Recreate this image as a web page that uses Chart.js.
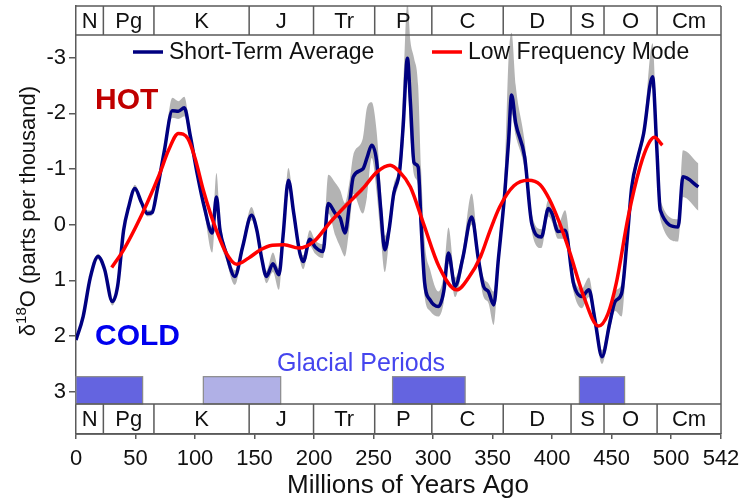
<!DOCTYPE html>
<html>
<head>
<meta charset="utf-8">
<script src="https://cdn.jsdelivr.net/npm/chart.js@4.4.0/dist/chart.umd.min.js"></script>
<style>
  html, body { margin: 0; padding: 0; background: #fff; }
</style>
</head>
<body>
<canvas id="chart" width="742" height="501"></canvas>
<script>
// short-term average of d18O, with its uncertainty envelope
const ages = [0, 6, 12, 18.5, 24, 30.5, 35, 40, 44, 49.5, 55, 60, 64, 68, 74, 81, 86, 91, 96, 102,
  108, 114.5, 118, 121, 126, 133.5, 140, 147.5, 152, 156, 160, 165.5, 170.5, 174, 178.5, 183, 188,
  191, 196.5, 201, 207.5, 212, 218, 222, 226, 230, 233, 241, 244.5, 248.5, 252.5, 256, 259.5, 263,
  267, 272, 275, 278.5, 281, 284, 287.5, 290, 293, 297.5, 304.5, 309, 313, 318.5, 325, 332.5, 338,
  342.5, 346.5, 351, 355, 360.5, 363.5, 366, 369.5, 377, 383, 391, 397, 400, 405, 411, 418, 425,
  431, 436, 442, 448.5, 453, 458.5, 463, 467, 472, 477, 484.5, 488, 491, 506, 510, 523];
const shortTerm = [2.07, 1.65, 0.95, 0.57, 0.8, 1.38, 1.1, 0.1, -0.3, -0.65, -0.4, -0.2, -0.22, -0.6,
  -1.3, -2.05, -2.04, -2.1, -1.6, -0.9, -0.3, 0.15, -0.5, 0.1, 0.5, 0.93, 0.4, -0.17, 0.1, 0.6, 0.93,
  0.7, 0.9, 0.2, -0.8, -0.2, 0.5, 0.66, 0.26, 0.4, 0.48, -0.38, -0.2, -0.12, 0.15, -0.4, -0.86, -1.0,
  -1.2, -1.43, -1.16, -0.3, 0.45, 0.1, -0.56, -0.98, -1.8, -2.99, -2.2, -1.12, -1.04, 0.0, 1.05, 1.35,
  1.47, 1.2, 0.51, 1.11, 0.6, -0.14, 0.6, 1.11, 1.2, 1.44, 0.6, -0.62, -1.5, -2.33, -1.82, -1.22,
  -0.02, 0.22, -0.29, -0.2, 0.12, 0.1, 1.05, 1.29, 1.17, 1.7, 2.37, 1.77, 1.38, 1.23, 0.3, -0.68,
  -1.2, -1.64, -2.66, -1.4, -0.26, 0.04, -0.86, -0.68];
const bandTop = [2.02, 1.6, 0.9, 0.52, 0.75, 1.33, 1.05, 0.05, -0.35, -0.72, -0.45, -0.26, -0.28,
  -0.66, -1.36, -2.28, -2.22, -2.3, -1.7, -1.0, -0.4, 0.05, -0.93, -0.1, 0.4, 0.82, 0.3, -0.32, 0.0,
  0.5, 0.83, 0.5, 0.78, 0.08, -1.02, -0.32, 0.38, 0.55, 0.1, 0.28, 0.35, -0.9, -0.75, -0.62, -0.39,
  -0.8, -1.25, -1.55, -2.1, -2.2, -1.7, -0.7, 0.2, -0.05, -0.72, -1.15, -2.5, -4.0, -3.3, -3.0, -2.5,
  -1.0, 0.3, 0.8, 1.2, 0.9, 0.05, 0.95, 0.45, -0.56, 0.45, 0.95, 1.05, 1.2, 0.4, -1.1, -3.0, -3.45,
  -2.5, -1.5, -0.2, 0.08, -0.45, -0.35, 0.0, -0.26, 0.9, 1.15, 0.95, 1.55, 2.25, 1.6, 1.2, 1.05,
  0.15, -0.8, -1.3, -1.75, -3.26, -1.7, -0.45, -0.1, -1.34, -1.1];
const bandBottom = [2.12, 1.7, 1.0, 0.62, 0.85, 1.45, 1.15, 0.15, -0.25, -0.6, -0.35, -0.15, -0.17,
  -0.55, -1.25, -1.92, -1.9, -1.95, -1.5, -0.82, -0.2, 0.5, -0.35, 0.25, 0.62, 1.08, 0.5, -0.08, 0.2,
  0.7, 1.05, 0.85, 1.17, 0.35, -0.7, -0.08, 0.62, 0.8, 0.38, 0.52, 0.6, -0.2, 0.2, 0.4, 0.57, 0.0,
  -0.55, -0.2, -0.5, -1.2, -0.6, 0.2, 0.85, 0.3, -0.4, -0.82, -1.4, -2.6, -1.6, -0.9, -0.7, 0.3, 1.3,
  1.55, 1.65, 1.4, 0.7, 1.3, 0.75, 0.0, 0.75, 1.3, 1.4, 1.8, 0.8, -0.45, -1.2, -2.0, -1.6, -1.0, 0.12,
  0.42, -0.15, -0.05, 0.25, 0.25, 1.2, 1.5, 1.3, 1.85, 2.5, 1.9, 1.55, 1.65, 0.5, -0.55, -1.1, -1.52,
  -2.5, -1.2, -0.1, 0.3, -0.5, -0.25];

// low frequency mode
const lfAges = [30, 40, 50, 60, 70, 78, 86, 94, 100, 107, 113, 118, 126, 135, 145, 155, 165, 175,
  187, 200, 213, 227, 241, 253, 264, 272, 281, 292, 305, 320, 330, 340, 348, 356, 368, 380, 390, 398,
  406, 415, 426, 439, 447, 454, 464, 474, 481, 486, 492.7];
const lowFreq = [0.77, 0.45, 0.05, -0.4, -0.9, -1.35, -1.64, -1.55, -1.2, -0.62, -0.2, 0.1, 0.5, 0.71,
  0.6, 0.45, 0.37, 0.36, 0.42, 0.3, -0.03, -0.35, -0.65, -0.95, -1.07, -0.95, -0.68, -0.02, 0.75, 1.17,
  0.95, 0.57, 0.1, -0.32, -0.7, -0.8, -0.72, -0.45, -0.05, 0.5, 1.25, 1.82, 1.6, 1.05, -0.14, -1.04,
  -1.45, -1.57, -1.43];

// geologic periods
const periodNames = ['N', 'Pg', 'K', 'J', 'Tr', 'P', 'C', 'D', 'S', 'O', 'Cm'];
const periodBounds = [0, 23, 65.5, 145.5, 199.6, 251, 299, 359, 416, 443.7, 488.3, 542];

// glacial periods
const glacialFrom = [0, 107, 266, 423];
const glacialTo = [56, 172, 327, 461];
const glacialShade = ['#6464e0', '#b0b0e6', '#6464e0', '#6464e0'];

const xTicks = [0, 50, 100, 150, 200, 250, 300, 350, 400, 450, 500, 542];
const yTicks = [-3, -2, -1, 0, 1, 2, 3];

const FONT = "'Liberation Sans', Arial, sans-serif";
const LINE = '#5a5a5a';

const pts = (xs, ys) => xs.map((x, i) => ({x: x, y: ys[i]}));

const decor = {
  id: 'decor',
  beforeDatasetsDraw(chart) {
    const {ctx, scales: {x, y}} = chart;
    const y0 = y.getPixelForValue(2.73), y1 = y.getPixelForValue(3.22);
    ctx.save();
    glacialFrom.forEach((g, i) => {
      const x0 = x.getPixelForValue(g), x1 = x.getPixelForValue(glacialTo[i]);
      ctx.fillStyle = glacialShade[i];
      ctx.fillRect(x0, y0, x1 - x0, y1 - y0);
      ctx.strokeStyle = '#8a8a8a';
      ctx.lineWidth = 1.2;
      ctx.strokeRect(x0, y0, x1 - x0, y1 - y0);
    });
    ctx.restore();
  },
  afterDraw(chart) {
    const {ctx, chartArea: area, scales: {x, y}} = chart;
    ctx.save();
    ctx.strokeStyle = LINE;
    ctx.lineWidth = 1.5;

    // period strips along the top and bottom
    const strips = [[area.top, y.getPixelForValue(-3.41)], [y.getPixelForValue(3.22), area.bottom]];
    strips.forEach(([top, bot]) => {
      ctx.beginPath();
      ctx.moveTo(area.left, top); ctx.lineTo(area.right, top);
      ctx.moveTo(area.left, bot); ctx.lineTo(area.right, bot);
      periodBounds.slice(1, -1).forEach(b => {
        const px = x.getPixelForValue(b);
        ctx.moveTo(px, top); ctx.lineTo(px, bot);
      });
      ctx.stroke();
      ctx.fillStyle = '#111';
      ctx.font = '22px ' + FONT;
      ctx.textAlign = 'center';
      ctx.textBaseline = 'middle';
      periodNames.forEach((n, i) => {
        const cx = (x.getPixelForValue(periodBounds[i]) + x.getPixelForValue(periodBounds[i + 1])) / 2;
        ctx.fillText(n, cx, (top + bot) / 2 + 1);
      });
    });
    // right edge of the frame
    ctx.beginPath();
    ctx.moveTo(area.right, area.top); ctx.lineTo(area.right, area.bottom);
    ctx.stroke();

    // legend
    const legend = [['Short-Term Average', '#000080', 133], ['Low Frequency Mode', '#ff0000', 432]];
    ctx.textAlign = 'left';
    ctx.font = '23px ' + FONT;
    legend.forEach(([label, color, lx]) => {
      ctx.strokeStyle = color;
      ctx.lineWidth = 3.5;
      ctx.beginPath();
      ctx.moveTo(lx, 52); ctx.lineTo(lx + 30, 52);
      ctx.stroke();
      ctx.fillStyle = '#111';
      ctx.fillText(label, lx + 36, 53);
    });

    ctx.font = 'bold 30px ' + FONT;
    ctx.fillStyle = '#c00000';
    ctx.fillText('HOT', 95, 101);
    ctx.fillStyle = '#0000ee';
    ctx.fillText('COLD', 95, 337);

    ctx.font = '25px ' + FONT;
    ctx.fillStyle = '#4545ee';
    ctx.textAlign = 'center';
    ctx.fillText('Glacial Periods', 361, 364);

    // x axis title
    ctx.font = '26px ' + FONT;
    ctx.fillStyle = '#111';
    ctx.fillText('Millions of Years Ago', 408, 486);

    // y axis title with superscript
    ctx.translate(35, 211);
    ctx.rotate(-Math.PI / 2);
    ctx.textAlign = 'left';
    ctx.textBaseline = 'alphabetic';
    const big = '22px ' + FONT, small = '15px ' + FONT;
    ctx.font = big;
    const wD = ctx.measureText('\u03b4').width;
    const wRest = ctx.measureText('O (parts per thousand)').width;
    ctx.font = small;
    const wSup = ctx.measureText('18').width;
    let tx = -(wD + wSup + wRest) / 2;
    ctx.font = big;
    ctx.fillText('\u03b4', tx, 0);
    tx += wD;
    ctx.font = small;
    ctx.fillText('18', tx, -9);
    tx += wSup;
    ctx.font = big;
    ctx.fillText('O (parts per thousand)', tx, 0);
    ctx.restore();
  }
};

new Chart(document.getElementById('chart'), {
  type: 'line',
  data: {
    datasets: [
      {
        label: 'Low Frequency Mode',
        data: pts(lfAges, lowFreq),
        borderColor: '#ff0000',
        borderWidth: 3.5,
        pointRadius: 0,
        cubicInterpolationMode: 'monotone',
        fill: false,
        order: 0
      },
      {
        label: 'Short-Term Average',
        data: pts(ages, shortTerm),
        borderColor: '#000080',
        borderWidth: 3.5,
        pointRadius: 0,
        cubicInterpolationMode: 'monotone',
        fill: false,
        order: 1
      },
      {
        label: 'upper',
        data: pts(ages, bandTop),
        borderColor: 'rgba(0,0,0,0)',
        borderWidth: 0,
        backgroundColor: '#b3b3b3',
        pointRadius: 0,
        cubicInterpolationMode: 'monotone',
        fill: '+1',
        order: 2
      },
      {
        label: 'lower',
        data: pts(ages, bandBottom),
        borderColor: 'rgba(0,0,0,0)',
        borderWidth: 0,
        pointRadius: 0,
        cubicInterpolationMode: 'monotone',
        fill: false,
        order: 3
      }
    ]
  },
  options: {
    responsive: false,
    animation: false,
    events: [],
    layout: { padding: { top: 6, right: 21, left: 0, bottom: 0 } },
    plugins: {
      legend: { display: false },
      tooltip: { enabled: false }
    },
    scales: {
      x: {
        type: 'linear',
        min: 0,
        max: 542,
        afterBuildTicks: s => { s.ticks = xTicks.map(v => ({value: v})); },
        afterFit: s => { s.height = 67; s.paddingLeft = 0; s.paddingRight = 0; },
        grid: { drawOnChartArea: false, drawTicks: true, tickLength: 5, color: LINE, lineWidth: 1.5 },
        border: { display: true, color: LINE, width: 1.5 },
        ticks: { color: '#111', font: { family: FONT, size: 22 }, padding: 7, maxRotation: 0, autoSkip: false }
      },
      y: {
        type: 'linear',
        reverse: true,
        min: -3.93,
        max: 3.76,
        afterBuildTicks: s => { s.ticks = yTicks.map(v => ({value: v})); },
        afterFit: s => { s.width = 76; s.paddingTop = 0; s.paddingBottom = 0; },
        grid: { drawOnChartArea: false, drawTicks: true, tickLength: 7, color: LINE, lineWidth: 1.5 },
        border: { display: true, color: LINE, width: 1.5 },
        ticks: { color: '#111', font: { family: FONT, size: 22 }, padding: 3 }
      }
    }
  },
  plugins: [decor]
});
</script>
</body>
</html>
